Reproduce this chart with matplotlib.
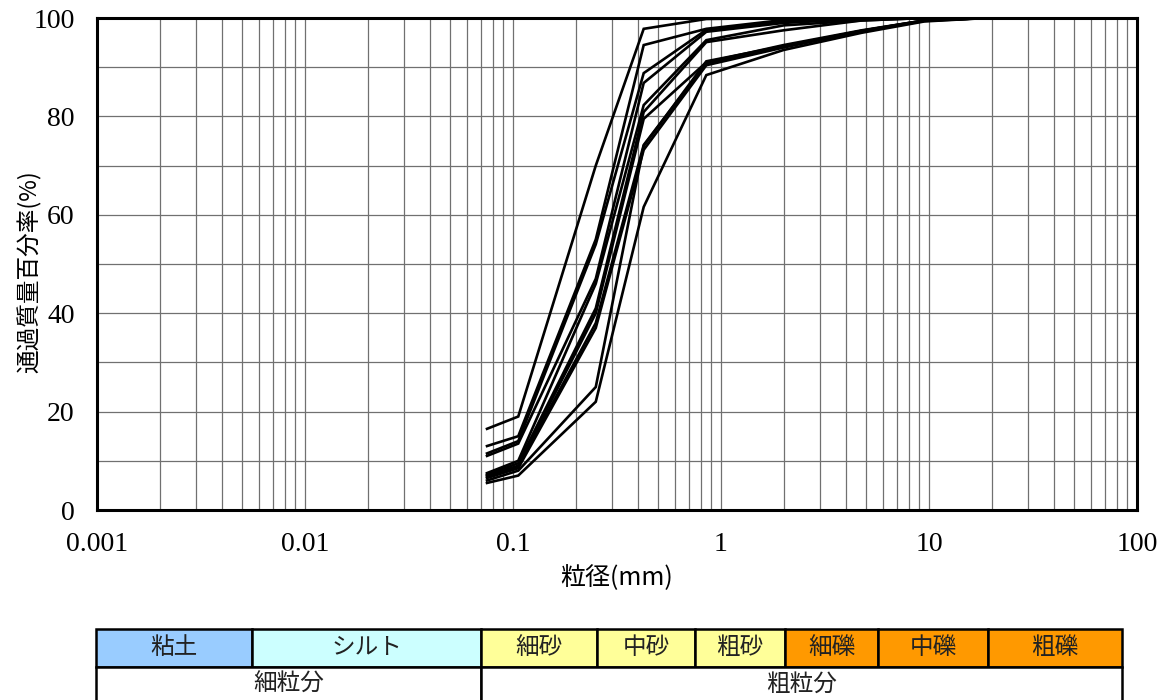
import matplotlib
matplotlib.use("Agg")
import matplotlib.pyplot as plt
from matplotlib.patches import Rectangle
from matplotlib.ticker import LogLocator, NullFormatter, FixedLocator

plt.rcParams['font.family'] = ['Noto Sans CJK JP', 'DejaVu Sans']

# sieve sizes (mm)
sieves = [0.075, 0.106, 0.25, 0.425, 0.85, 2.0, 4.75, 9.5, 19.0]

# passing percentage of each sample
s01 = [16.5, 19.0, 70.0, 97.8, 99.8, 100, 100, 100, 100]
s02 = [13.0, 15.0, 55.0, 94.5, 97.8, 99.6, 100, 100, 100]
s03 = [11.5, 14.0, 54.0, 88.8, 97.6, 99.3, 100, 100, 100]
s04 = [11.0, 13.5, 47.0, 86.8, 97.2, 99.0, 99.8, 100, 100]
s05 = [7.5, 10.0, 46.0, 82.3, 95.5, 98.5, 99.5, 100, 100]
s06 = [7.2, 9.5, 41.0, 80.9, 95.1, 97.5, 99.5, 100, 100]
s07 = [7.0, 9.0, 40.0, 79.5, 91.0, 94.5, 97.5, 99.5, 100]
s08 = [6.8, 8.8, 38.0, 74.2, 90.8, 94.2, 97.4, 99.5, 100]
s09 = [6.5, 8.5, 37.0, 73.2, 90.4, 94.0, 97.3, 99.4, 100]
s10 = [6.0, 8.0, 25.0, 74.0, 91.2, 94.3, 97.4, 99.5, 100]
s11 = [5.5, 7.0, 22.0, 61.6, 88.4, 93.5, 97.0, 99.3, 100]
samples = [s01, s02, s03, s04, s05, s06, s07, s08, s09, s10, s11]

x_ticks = [0.001, 0.01, 0.1, 1, 10, 100]
x_tick_labels = ["0.001", "0.01", "0.1", "1", "10", "100"]
y_ticks = [0, 20, 40, 60, 80, 100]

# soil classification table
row1_labels = ["粘土", "シルト", "細砂", "中砂", "粗砂", "細礫", "中礫", "粗礫"]
row1_colors = ["#99CCFF", "#CCFFFF", "#FFFF99", "#FFFF99", "#FFFF99",
               "#FF9900", "#FF9900", "#FF9900"]
row2_labels = ["細粒分", "粗粒分"]

W, H = 1161, 700
fig = plt.figure(figsize=(W / 100, H / 100), dpi=100)
ax = fig.add_axes([97 / W, 1 - 510 / H, (1137 - 97) / W, (510 - 18) / H])

for s in samples:
    ax.plot(sieves, s, color="black", lw=1.9, solid_joinstyle="miter")

ax.set_xscale("log")
ax.set_xlim(0.001, 100)
ax.set_ylim(0, 100)
ax.xaxis.set_major_locator(FixedLocator(x_ticks))
ax.set_xticklabels(x_tick_labels)
ax.xaxis.set_minor_locator(LogLocator(base=10, subs=range(2, 10), numticks=20))
ax.xaxis.set_minor_formatter(NullFormatter())
ax.set_yticks(y_ticks)
ax.set_yticks(range(10, 100, 20), minor=True)
ax.grid(True, which="both", axis="both", color="#707070", lw=0.9)
ax.set_axisbelow(True)
ax.tick_params(which="both", length=0)
ax.tick_params(axis="x", pad=16)
ax.tick_params(axis="y", pad=16)
for lab in ax.get_xticklabels() + ax.get_yticklabels():
    lab.set_family(["Liberation Serif", "DejaVu Serif"])
    lab.set_fontsize(20)
for sp in ax.spines.values():
    sp.set_linewidth(2.2)
    sp.set_color("black")

ax.set_xlabel("粒径(mm)", fontsize=18, labelpad=6)
fig.text(30 / W, 1 - 272 / H, "通過質量百分率(%)", rotation=90, ha="center",
         va="center", fontsize=17)

# table drawn in pixel coordinates
tax = fig.add_axes([0, 0, 1, 1])
tax.set_xlim(0, W)
tax.set_ylim(H, 0)
tax.axis("off")
bounds = [96, 252, 481, 597, 695, 785, 878, 988, 1122]
r1_top, r1_bot, r2_bot = 629, 667, 702
for i, (lab, col) in enumerate(zip(row1_labels, row1_colors)):
    x0, x1 = bounds[i], bounds[i + 1]
    tax.add_patch(Rectangle((x0, r1_top), x1 - x0, r1_bot - r1_top,
                            facecolor=col, edgecolor="black", lw=1.8))
    tax.text((x0 + x1) / 2, (r1_top + r1_bot) / 2, lab, ha="center",
             va="center", fontsize=17, color="#222222")
r2_bounds = [bounds[0], bounds[2], bounds[-1]]
for i, lab in enumerate(row2_labels):
    x0, x1 = r2_bounds[i], r2_bounds[i + 1]
    tax.add_patch(Rectangle((x0, r1_bot), x1 - x0, r2_bot - r1_bot,
                            facecolor="white", edgecolor="black", lw=1.8,
                            clip_on=False))
    tax.text((x0 + x1) / 2, (r1_bot + r2_bot) / 2, lab, ha="center",
             va="center", fontsize=17, color="#222222")

fig.savefig("out.png", dpi=100)
